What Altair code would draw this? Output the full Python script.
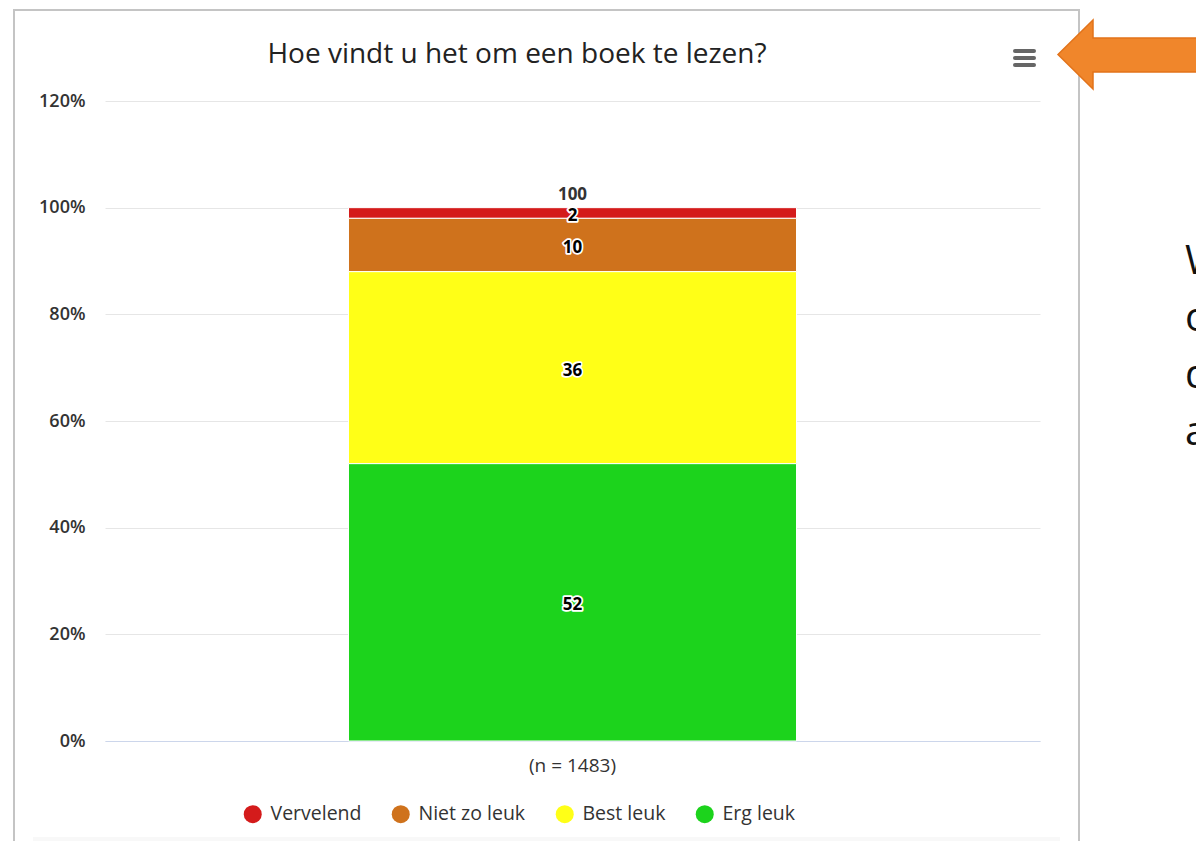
import altair as alt
import pandas as pd

# ---- data ----
answers = ["Vervelend", "Niet zo leuk", "Best leuk", "Erg leuk"]
percentages = [2, 10, 36, 52]
stack_order = [3, 2, 1, 0]          # Erg leuk at the bottom of the stack
colors = ["#d41b1b", "#cf721c", "#ffff17", "#1cd31c"]
group_label = "(n = 1483)"
y_ticks = [0, 20, 40, 60, 80, 100, 120]
title_text = "Hoe vindt u het om een boek te lezen?"
side_letters = ["W", "o", "d", "a"]

df = pd.DataFrame({
    "group": [group_label] * len(answers),
    "answer": answers,
    "pct": percentages,
    "order": stack_order,
})

FONT = "Open Sans"
TXT = "#333333"
ONE = alt.Data(values=[{}])

x_enc = alt.X(
    "group:N", title=None,
    scale=alt.Scale(paddingInner=0, paddingOuter=0.5435),
    axis=alt.Axis(labelFontSize=19, labelColor=TXT, labelFont=FONT, labelPadding=15,
                  ticks=False, domainColor="#ccd6eb", domainWidth=1, grid=False, labelAngle=0),
)
y_enc = alt.Y(
    "pct:Q", stack="zero", title=None,
    scale=alt.Scale(domain=[0, 120], nice=False),
    axis=alt.Axis(values=y_ticks, labelExpr="datum.value + '%'", labelFontSize=18,
                  labelFont=FONT, labelFontWeight=600, labelColor=TXT, labelPadding=20,
                  ticks=False, domain=False, gridColor="#e6e6e6", gridWidth=1),
)

card = alt.Chart(ONE).mark_rect(
    fill=None, stroke="#c4c4c4", strokeWidth=2
).encode(x=alt.value(-91), x2=alt.value(974), y=alt.value(-91), y2=alt.value(770))

bottom_band = alt.Chart(ONE).mark_rect(fill="#f8f8f8").encode(
    x=alt.value(-72), x2=alt.value(955), y=alt.value(736), y2=alt.value(743))

bars = alt.Chart(df).mark_bar(stroke="white", strokeWidth=1).encode(
    x=x_enc,
    y=y_enc,
    color=alt.Color(
        "answer:N",
        scale=alt.Scale(domain=answers, range=colors),
        legend=alt.Legend(orient="none", legendX=138, legendY=703, direction="horizontal",
                          title=None, symbolType="circle", symbolSize=324, symbolStrokeWidth=0,
                          symbolOpacity=1, labelFontSize=19.5, labelFont=FONT, labelColor=TXT,
                          labelOffset=8, columnPadding=29),
    ),
    order=alt.Order("order:Q"),
)

stacked = alt.Chart(df).transform_stack(
    stack="pct", as_=["p0", "p1"], groupby=["group"],
    sort=[alt.SortField("order", order="ascending")],
).transform_calculate(mid="(datum.p0 + datum.p1) / 2")

label_outline = stacked.mark_text(
    font=FONT, fontSize=17, fontWeight="bold", fill="white", stroke="white",
    strokeWidth=3.5, strokeJoin="round", dy=3
).encode(x=alt.X("group:N"), y=alt.Y("mid:Q"), text="pct:Q")

label_text = stacked.mark_text(
    font=FONT, fontSize=17, fontWeight="bold", color="#000000", dy=3
).encode(x=alt.X("group:N"), y=alt.Y("mid:Q"), text="pct:Q")

total = alt.Chart(df).mark_text(
    font=FONT, fontSize=17, fontWeight="bold", color=TXT, dy=-13
).encode(x=alt.X("group:N"), y=alt.Y("sum(pct):Q"), text="sum(pct):Q")

title = alt.Chart(ONE).mark_text(
    text=title_text, font=FONT, fontSize=28, color="#222222", align="center",
    baseline="alphabetic"
).encode(x=alt.value(412), y=alt.value(-38))

menu_layers = [
    alt.Chart(ONE).mark_rule(color="#666666", strokeWidth=4, strokeCap="round")
    .encode(x=alt.value(910), x2=alt.value(929), y=alt.value(yy))
    for yy in (-50, -43, -36)
]

arrow = alt.Chart(ONE).mark_point(
    shape="M0,0 L35,-34.5 L35,-16.5 L170,-16.5 L170,17.5 L35,17.5 L35,34.5 Z",
    size=4, filled=True, fill="#f0862b", stroke="#e2731a", strokeWidth=1.5, opacity=1
).encode(x=alt.value(953), y=alt.value(-46.5))

letter_layers = [
    alt.Chart(ONE).mark_text(
        text=ch, font=FONT, fontSize=40, color="#111111", align="left", baseline="alphabetic"
    ).encode(x=alt.value(1080), y=alt.value(173 + 57 * i))
    for i, ch in enumerate(side_letters)
]

chart = alt.layer(
    bottom_band, card, bars, label_outline, label_text, total, title,
    *menu_layers, arrow, *letter_layers
).properties(
    width=935, height=640,
    autosize=alt.AutoSizeParams(type="none"),
    padding={"left": 97, "top": 93, "right": 156, "bottom": 100},
    background="white",
).configure_view(stroke=None)

chart.save("out.html", embed_options={"renderer": "svg", "actions": False})
